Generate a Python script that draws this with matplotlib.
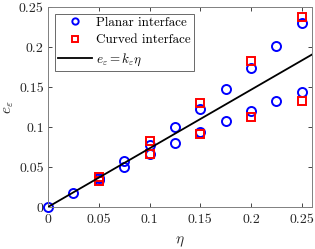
import matplotlib
matplotlib.use("Agg")
import matplotlib.pyplot as plt
import numpy as np

plt.rcParams['font.family'] = 'serif'
plt.rcParams['font.serif'] = ['cmr10']
plt.rcParams['mathtext.fontset'] = 'cm'
plt.rcParams['axes.formatter.use_mathtext'] = True

planar_eta = [0, 0.025, 0.05, 0.05, 0.075, 0.075, 0.1, 0.1, 0.125, 0.125,
              0.15, 0.15, 0.175, 0.175, 0.2, 0.2, 0.225, 0.225, 0.25, 0.25]
planar_e = [0.0, 0.018, 0.036, 0.034, 0.058, 0.050, 0.078, 0.066, 0.100, 0.080,
            0.123, 0.094, 0.148, 0.107, 0.174, 0.120, 0.201, 0.133, 0.230, 0.144]
curved_eta = [0.05, 0.05, 0.1, 0.1, 0.15, 0.15, 0.2, 0.2, 0.25, 0.25]
curved_e = [0.037, 0.033, 0.083, 0.066, 0.130, 0.091, 0.183, 0.113, 0.238, 0.133]
k_eps = 0.733
line_eta = [0, 0.26]

fig = plt.figure(figsize=(3.15, 2.49), dpi=100)
ax = fig.add_axes([48/315, 42/249, 264/315, 200/249])

ax.plot(planar_eta, planar_e, 'o', mfc='none', mec='#0000ff', ms=6.5, mew=1.4,
        label='Planar interface', zorder=2, clip_on=False)
ax.plot(curved_eta, curved_e, 's', mfc='none', mec='#ff0000', ms=5.5, mew=1.4,
        label='Curved interface', zorder=3, clip_on=False)
ax.plot(line_eta, [k_eps * x for x in line_eta], '-', color='k', lw=1.3,
        label=r'$e_\varepsilon = k_\varepsilon \eta$', zorder=4)

ax.set_xlim(0, 0.26)
ax.set_ylim(0, 0.25)
ax.set_xticks([0, 0.05, 0.1, 0.15, 0.2, 0.25])
ax.set_xticklabels(['0', '0.05', '0.1', '0.15', '0.2', '0.25'])
ax.set_yticks([0, 0.05, 0.1, 0.15, 0.2, 0.25])
ax.set_yticklabels(['0', '0.05', '0.1', '0.15', '0.2', '0.25'])
ax.tick_params(direction='in', top=True, right=True, labelsize=10,
               color='#262626', labelcolor='#262626', length=3, width=0.6)
ax.tick_params(axis='x', pad=5)
ax.tick_params(axis='y', pad=3)
for s in ax.spines.values():
    s.set_color('#808080')
    s.set_linewidth(0.7)

ax.set_xlabel(r'$\eta$', fontsize=11, color='#262626', labelpad=6)
ax.set_ylabel(r'$e_\varepsilon$', fontsize=11, color='#262626', labelpad=2)

leg = ax.legend(loc='upper left', fontsize=9.4, frameon=True, fancybox=False,
                edgecolor='#262626', borderpad=0.25, labelspacing=0.4,
                handlelength=2.6, handletextpad=0.3, borderaxespad=0.5,
                markerscale=0.7)
leg.get_frame().set_linewidth(0.6)

fig.savefig('out.png', dpi=100)
